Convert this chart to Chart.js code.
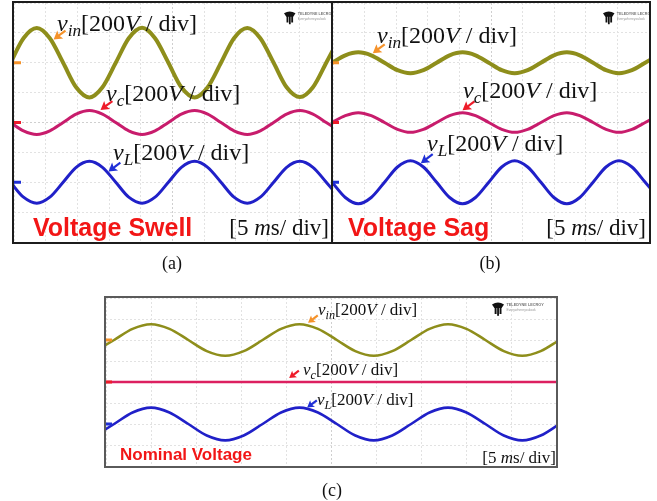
<!DOCTYPE html>
<html>
<head>
<meta charset="utf-8">
<script src="https://cdn.jsdelivr.net/npm/chart.js@4.4.1/dist/chart.umd.min.js"></script>
<style>
  html, body { margin: 0; padding: 0; background: #fff; }
  body { position: relative; width: 657px; height: 501px; overflow: hidden; }
  .panel { position: absolute; box-sizing: border-box; border: 2px solid #1c1c1c; background: #fff; }
  .panel canvas { display: block; }
  .lab { position: absolute; font-family: 'Liberation Serif', 'Times New Roman', serif; color: #111;
         white-space: nowrap; line-height: 1; transform: translateY(-50%); }
  .lab sub { font-size: 0.72em; vertical-align: -0.28em; font-style: italic; }
  .tag { position: absolute; font-family: 'Liberation Sans', Arial, sans-serif; font-weight: bold;
         color: #f21616; white-space: nowrap; line-height: 1; transform: translateY(-50%); }
  .right { transform: translate(-100%, -50%); }
  .cap { transform: translate(-50%, -50%); }
</style>
</head>
<body>

<div class="panel" style="left:12px;top:1px;width:321px;height:243px"><canvas id="chartA" width="317" height="239"></canvas></div>
<div class="panel" style="left:331px;top:1px;width:320px;height:243px"><canvas id="chartB" width="316" height="239"></canvas></div>
<div class="panel" style="left:104px;top:296px;width:454px;height:172px;border-color:#5a5a5a"><canvas id="chartC" width="450" height="168"></canvas></div>

<!-- (a) swell -->
<div class="lab" style="left:57px;top:25px;font-size:24px"><i>v</i><sub>in</sub>[200<i>V</i> / div]</div>
<div class="lab" style="left:106px;top:95px;font-size:24px"><i>v</i><sub>c</sub>[200<i>V</i> / div]</div>
<div class="lab" style="left:113px;top:154px;font-size:24px"><i>v</i><sub>L</sub>[200<i>V</i> / div]</div>
<div class="tag" style="left:33px;top:227px;font-size:25px">Voltage Swell</div>
<div class="lab right" style="left:329px;top:227px;font-size:23px">[5 <i>m</i>s/ div]</div>
<div class="lab cap" style="left:172px;top:263px;font-size:18px">(a)</div>

<!-- (b) sag -->
<div class="lab" style="left:377px;top:37px;font-size:24px"><i>v</i><sub>in</sub>[200<i>V</i> / div]</div>
<div class="lab" style="left:463px;top:92px;font-size:24px"><i>v</i><sub>c</sub>[200<i>V</i> / div]</div>
<div class="lab" style="left:427px;top:145px;font-size:24px"><i>v</i><sub>L</sub>[200<i>V</i> / div]</div>
<div class="tag" style="left:348px;top:227px;font-size:25px">Voltage Sag</div>
<div class="lab right" style="left:646px;top:227px;font-size:23px">[5 <i>m</i>s/ div]</div>
<div class="lab cap" style="left:490px;top:263px;font-size:18px">(b)</div>

<!-- (c) nominal -->
<div class="lab" style="left:318px;top:311px;font-size:17px"><i>v</i><sub>in</sub>[200<i>V</i> / div]</div>
<div class="lab" style="left:303px;top:371px;font-size:17px"><i>v</i><sub>c</sub>[200<i>V</i> / div]</div>
<div class="lab" style="left:317px;top:401px;font-size:17px"><i>v</i><sub>L</sub>[200<i>V</i> / div]</div>
<div class="tag" style="left:120px;top:454px;font-size:17px">Nominal Voltage</div>
<div class="lab right" style="left:556px;top:457px;font-size:17px">[5 <i>m</i>s/ div]</div>
<div class="lab cap" style="left:332px;top:490px;font-size:18px">(c)</div>

<script>
// time in divisions (5 ms/div), voltage in divisions (200 V/div), channel offsets +2 / 0 / -2
const timeA = [-0.11, 0.30, 0.72, 1.13, 1.55, 1.96, 2.38, 2.79, 3.21, 3.62, 4.04, 4.45, 4.87,
               5.28, 5.70, 6.11, 6.53, 6.94, 7.36, 7.77, 8.19, 8.60, 9.02, 9.43, 9.85, 10.26];
const vinA = [2.00, 2.82, 3.16, 2.82, 2.00, 1.18, 0.84, 1.18, 2.00, 2.82, 3.17, 2.82, 2.00,
              1.18, 0.84, 1.18, 2.00, 2.82, 3.16, 2.82, 2.00, 1.18, 0.85, 1.18, 2.00, 2.82];
const vcA = [0.00, -0.28, -0.40, -0.28, 0.00, 0.28, 0.40, 0.28, 0.00, -0.28, -0.40, -0.28, 0.00,
             0.28, 0.40, 0.28, 0.00, -0.28, -0.40, -0.28, 0.00, 0.28, 0.40, 0.28, 0.00, -0.28];
const vLA = [-2.00, -2.50, -2.70, -2.50, -2.00, -1.50, -1.30, -1.50, -2.00, -2.50, -2.70, -2.50, -2.00,
             -1.50, -1.30, -1.50, -2.00, -2.50, -2.70, -2.50, -2.00, -1.50, -1.30, -1.50, -2.00, -2.50];

const timeB = [-0.03, 0.39, 0.80, 1.21, 1.63, 2.04, 2.45, 2.86, 3.28, 3.69, 4.10, 4.51, 4.93,
               5.34, 5.75, 6.16, 6.58, 6.99, 7.40, 7.81, 8.23, 8.64, 9.05, 9.46, 9.88, 10.29];
const vinB = [2.00, 2.25, 2.35, 2.25, 2.00, 1.75, 1.65, 1.75, 2.00, 2.25, 2.35, 2.25, 2.00,
              1.75, 1.65, 1.75, 2.00, 2.25, 2.35, 2.25, 2.00, 1.75, 1.65, 1.75, 2.00, 2.25];
const vcB = [0.00, 0.23, 0.33, 0.23, 0.00, -0.23, -0.33, -0.23, 0.00, 0.23, 0.33, 0.23, 0.00,
             -0.23, -0.33, -0.23, 0.00, 0.23, 0.33, 0.23, 0.00, -0.23, -0.33, -0.23, 0.00, 0.23];
const vLB = [-2.00, -2.51, -2.72, -2.51, -2.00, -1.49, -1.28, -1.49, -2.00, -2.51, -2.72, -2.51, -2.00,
             -1.49, -1.28, -1.49, -2.00, -2.51, -2.72, -2.51, -2.00, -1.49, -1.28, -1.49, -2.00, -2.51];

const timeC = [-0.24, 0.18, 0.59, 1.00, 1.41, 1.83, 2.24, 2.65, 3.06, 3.48, 3.89, 4.30, 4.71,
               5.13, 5.54, 5.95, 6.36, 6.78, 7.19, 7.60, 8.01, 8.43, 8.84, 9.25, 9.66, 10.08];
const vinC = [1.47, 2.00, 2.53, 2.75, 2.53, 2.00, 1.47, 1.25, 1.47, 2.00, 2.53, 2.75, 2.53,
              2.00, 1.47, 1.25, 1.47, 2.00, 2.53, 2.75, 2.53, 2.00, 1.47, 1.25, 1.47, 2.00];
const vcC = [0, 0, 0, 0, 0, 0, 0, 0, 0, 0, 0, 0, 0, 0, 0, 0, 0, 0, 0, 0, 0, 0, 0, 0, 0, 0];
const vLC = [-2.55, -2.00, -1.45, -1.22, -1.45, -2.00, -2.55, -2.78, -2.55, -2.00, -1.45, -1.22, -1.45,
             -2.00, -2.55, -2.78, -2.55, -2.00, -1.45, -1.22, -1.45, -2.00, -2.55, -2.78, -2.55, -2.00];

const channelOffsets = [2, 0, -2];
const markerColors = ['#f5922a', '#ee1c2a', '#1f2fd6'];

function pts(t, v) {
    return t.map((x, i) => ({ x: x, y: v[i] }));
}

// arrows, channel markers and the scope logo, drawn on top of the traces
const scopePlugin = {
    id: 'scope',
    afterDatasetsDraw(chart, args, opts) {
        const ctx = chart.ctx;
        const xs = chart.scales.x;
        const ys = chart.scales.y;
        const area = chart.chartArea;
        ctx.save();

        channelOffsets.forEach((off, i) => {
            ctx.fillStyle = markerColors[i];
            ctx.fillRect(area.left, ys.getPixelForValue(off) - 1.5, opts.markLen, 3);
        });

        (opts.arrows || []).forEach(a => {
            const px = xs.getPixelForValue(a.x);
            const py = ys.getPixelForValue(a.y);
            const len = opts.arrowLen;
            const ang = Math.atan2(-0.75, 1);
            const ux = Math.cos(ang), uy = Math.sin(ang);
            const head = len * 0.75;
            ctx.strokeStyle = a.color;
            ctx.fillStyle = a.color;
            ctx.lineWidth = 2.2;
            ctx.beginPath();
            ctx.moveTo(px + ux * head * 0.6, py + uy * head * 0.6);
            ctx.lineTo(px + ux * len * 1.35, py + uy * len * 1.35);
            ctx.stroke();
            ctx.beginPath();
            ctx.moveTo(px, py);
            ctx.lineTo(px + ux * head - uy * head * 0.6, py + uy * head + ux * head * 0.6);
            ctx.lineTo(px + ux * head * 0.8, py + uy * head * 0.8);
            ctx.lineTo(px + ux * head + uy * head * 0.6, py + uy * head - ux * head * 0.6);
            ctx.closePath();
            ctx.fill();
        });

        // Teledyne LeCroy badge
        const s = opts.logoScale;
        const lx = area.right - opts.logoRight;
        const ly = area.top + opts.logoTop;
        ctx.fillStyle = '#111';
        ctx.beginPath();
        ctx.moveTo(lx, ly + 2 * s);
        ctx.quadraticCurveTo(lx + 5 * s, ly - 1 * s, lx + 10 * s, ly + 2 * s);
        ctx.lineTo(lx + 8 * s, ly + 5 * s);
        ctx.lineTo(lx + 2 * s, ly + 5 * s);
        ctx.closePath();
        ctx.fill();
        ctx.fillRect(lx + 2.2 * s, ly + 4 * s, 1.6 * s, 6 * s);
        ctx.fillRect(lx + 4.3 * s, ly + 4 * s, 1.5 * s, 7.5 * s);
        ctx.fillRect(lx + 6.3 * s, ly + 4 * s, 1.6 * s, 6 * s);
        ctx.fillStyle = '#777';
        ctx.font = 'bold ' + (3.2 * s) + 'px "Liberation Sans", sans-serif';
        ctx.textBaseline = 'top';
        ctx.fillText('TELEDYNE LECROY', lx + 12 * s, ly + 0.8 * s);
        ctx.fillStyle = '#999';
        ctx.font = (2.8 * s) + 'px "Liberation Sans", sans-serif';
        ctx.fillText('Everywhereyoulook', lx + 12 * s, ly + 5.5 * s);
        ctx.restore();
    }
};

function gridColor(c) {
    return c.tick && c.tick.value === (c.scale.axis === 'x' ? 5 : 0) ? '#cfcfcf' : '#e2e2e2';
}

function makeScope(id, time, vin, vc, vL, widths, vcColor, extra) {
    const ctx = document.getElementById(id).getContext('2d');
    return new Chart(ctx, {
        type: 'line',
        data: {
            datasets: [
                { label: 'vin', data: pts(time, vin), borderColor: '#8e8e1b', borderWidth: widths[0] },
                { label: 'vc', data: pts(time, vc), borderColor: vcColor, borderWidth: widths[1] },
                { label: 'vL', data: pts(time, vL), borderColor: '#2020c8', borderWidth: widths[2] },
            ],
        },
        options: {
            responsive: false,
            animation: false,
            events: [],
            layout: { padding: 0 },
            elements: {
                point: { radius: 0 },
                line: { cubicInterpolationMode: 'monotone', borderCapStyle: 'round', borderJoinStyle: 'round', fill: false },
            },
            plugins: {
                legend: { display: false },
                tooltip: { enabled: false },
                scope: extra,
            },
            scales: {
                x: {
                    type: 'linear', min: 0, max: 10,
                    ticks: { display: false, stepSize: 1 },
                    grid: { color: gridColor, lineWidth: 1, drawTicks: false },
                    border: { display: false, dash: [2, 2] },
                },
                y: {
                    type: 'linear', min: -4, max: 4,
                    ticks: { display: false, stepSize: 1 },
                    grid: { color: gridColor, lineWidth: 1, drawTicks: false },
                    border: { display: false, dash: [2, 2] },
                },
            },
        },
        plugins: [scopePlugin],
    });
}

makeScope('chartA', timeA, vinA, vcA, vLA, [4, 3, 3], '#c81c6c', {
    markLen: 7, arrowLen: 11, logoScale: 1.15, logoRight: 47, logoTop: 8,
    arrows: [
        { x: 1.25, y: 2.78, color: '#f5922a' },
        { x: 2.73, y: 0.42, color: '#ee1c2a' },
        { x: 2.98, y: -1.64, color: '#1f2fd6' },
    ],
});
makeScope('chartB', timeB, vinB, vcB, vLB, [4, 3, 3], '#c81c6c', {
    markLen: 6, arrowLen: 11, logoScale: 1.15, logoRight: 46, logoTop: 8,
    arrows: [
        { x: 1.26, y: 2.32, color: '#f5922a' },
        { x: 4.10, y: 0.41, color: '#ee1c2a' },
        { x: 2.78, y: -1.36, color: '#1f2fd6' },
    ],
});
makeScope('chartC', timeC, vinC, vcC, vLC, [2.6, 2.6, 2.6], '#dc2060', {
    markLen: 6, arrowLen: 9, logoScale: 1.2, logoRight: 64, logoTop: 4,
    arrows: [
        { x: 4.49, y: 2.82, color: '#f5922a' },
        { x: 4.07, y: 0.19, color: '#ee1c2a' },
        { x: 4.47, y: -1.22, color: '#1f2fd6' },
    ],
});
</script>
</body>
</html>
